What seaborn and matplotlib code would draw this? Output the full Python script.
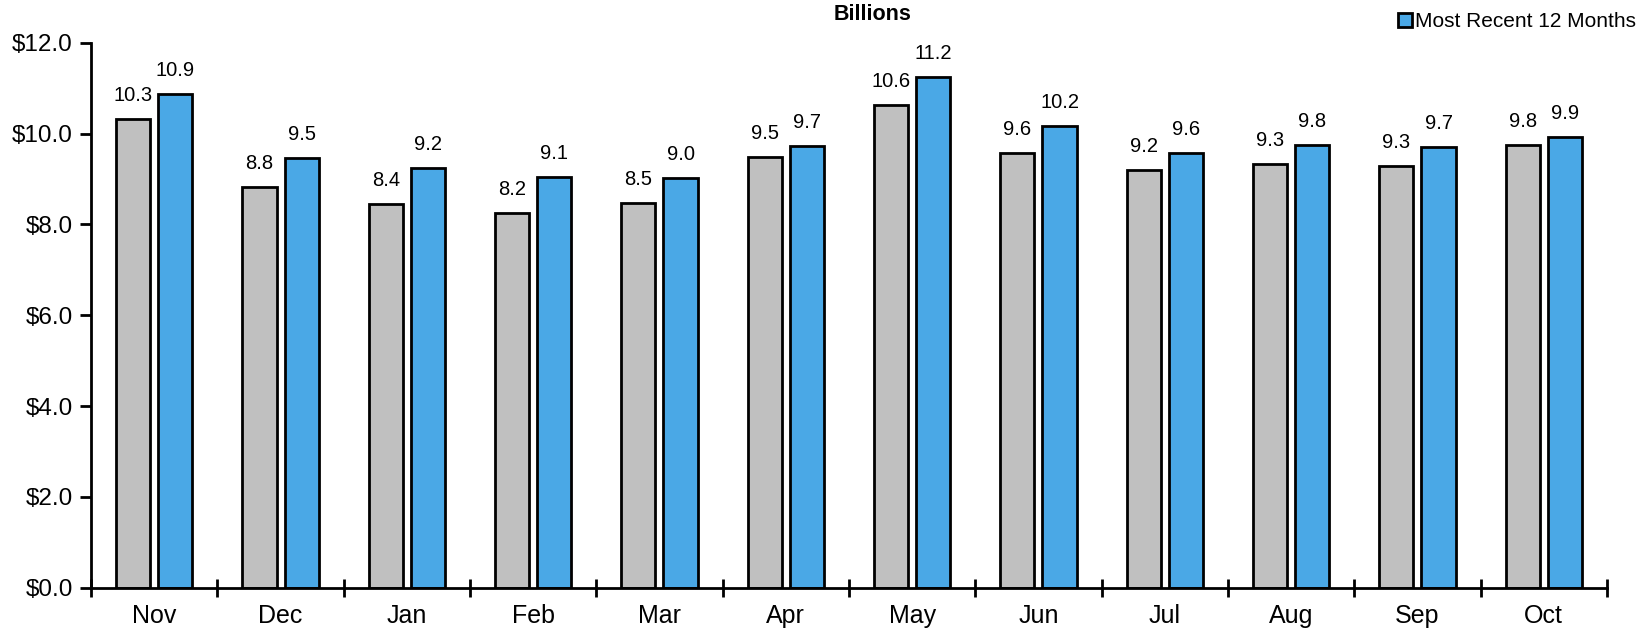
import matplotlib
matplotlib.use("Agg")
import matplotlib.pyplot as plt
import seaborn as sns
import pandas as pd
from matplotlib.patches import Patch
from matplotlib.ticker import FixedLocator

months = ["Nov", "Dec", "Jan", "Feb", "Mar", "Apr", "May", "Jun", "Jul", "Aug", "Sep", "Oct"]
prior_12 = [10.32, 8.82, 8.45, 8.24, 8.47, 9.49, 10.63, 9.58, 9.19, 9.33, 9.28, 9.75]
recent_12 = [10.86, 9.47, 9.24, 9.05, 9.03, 9.72, 11.25, 10.16, 9.58, 9.75, 9.70, 9.93]
series_names = ["Prior 12 Months", "Most Recent 12 Months"]
y_ticks = [0, 2, 4, 6, 8, 10, 12]

GREY = "#C0C0C0"
BLUE = "#4AA8E6"

df = pd.DataFrame({
    "month": months * 2,
    "value": prior_12 + recent_12,
    "series": [series_names[0]] * len(months) + [series_names[1]] * len(months),
})

sns.set_theme(style="white")
plt.rcParams["font.family"] = ["Liberation Sans", "DejaVu Sans"]
plt.rcParams["text.color"] = "black"
plt.rcParams["xtick.color"] = "black"
plt.rcParams["ytick.color"] = "black"

fig = plt.figure(figsize=(16.49, 6.32), dpi=100)
ax = fig.add_axes([0.0552, 0.0701, 0.9193, 0.8623])

sns.barplot(data=df, x="month", y="value", hue="series", order=months,
            hue_order=series_names, palette=[GREY, BLUE], saturation=1,
            width=0.667, gap=0.19, edgecolor="black", linewidth=2.0,
            legend=False, ax=ax, zorder=2)

# value labels
for container in ax.containers:
    for rect in container:
        h = rect.get_height()
        ax.annotate(f"{h:.1f}", (rect.get_x() + rect.get_width() / 2, h),
                    xytext=(0, 13), textcoords="offset points",
                    ha="center", va="baseline", fontsize=14.5, color="black",
                    bbox=dict(boxstyle="square,pad=0.1", fc="white", ec="none"),
                    zorder=5)

ax.set_ylim(0, 12)
ax.set_xlim(-0.5, len(months) - 0.5)
ax.set_yticks(y_ticks)
ax.set_yticklabels([f"${v:.1f}" for v in y_ticks], fontsize=17.5)
ax.set_xticks(range(len(months)))
ax.set_xticklabels(months, fontsize=18)
ax.tick_params(axis="x", which="major", length=0, pad=12, labelcolor="black")
ax.xaxis.set_minor_locator(FixedLocator([i - 0.5 for i in range(len(months) + 1)]))
ax.tick_params(axis="x", which="minor", bottom=True, direction="inout",
               length=13, width=2.0, color="black")
ax.tick_params(axis="y", which="major", direction="out", length=8, width=2.0,
               color="black", left=True, pad=5, labelcolor="black")
ax.set_xlabel("")
ax.set_ylabel("")
for side in ["top", "right"]:
    ax.spines[side].set_visible(False)
for side in ["left", "bottom"]:
    ax.spines[side].set_color("black")
    ax.spines[side].set_linewidth(2.0)
ax.grid(False)

fig.text(873 / 1649, 1 - 14 / 632, "Billions", ha="center", va="center",
         fontsize=15.5, fontweight="bold", color="black")

handle = Patch(facecolor=BLUE, edgecolor="black", linewidth=2.0)
fig.legend(handles=[handle], labels=[series_names[1]], loc="upper right",
           bbox_to_anchor=(1.0, 1.0), frameon=False, fontsize=15,
           handlelength=0.7, handleheight=0.7, handletextpad=0.15,
           borderaxespad=0.2, labelcolor="black")

fig.savefig("out.png", dpi=100)
